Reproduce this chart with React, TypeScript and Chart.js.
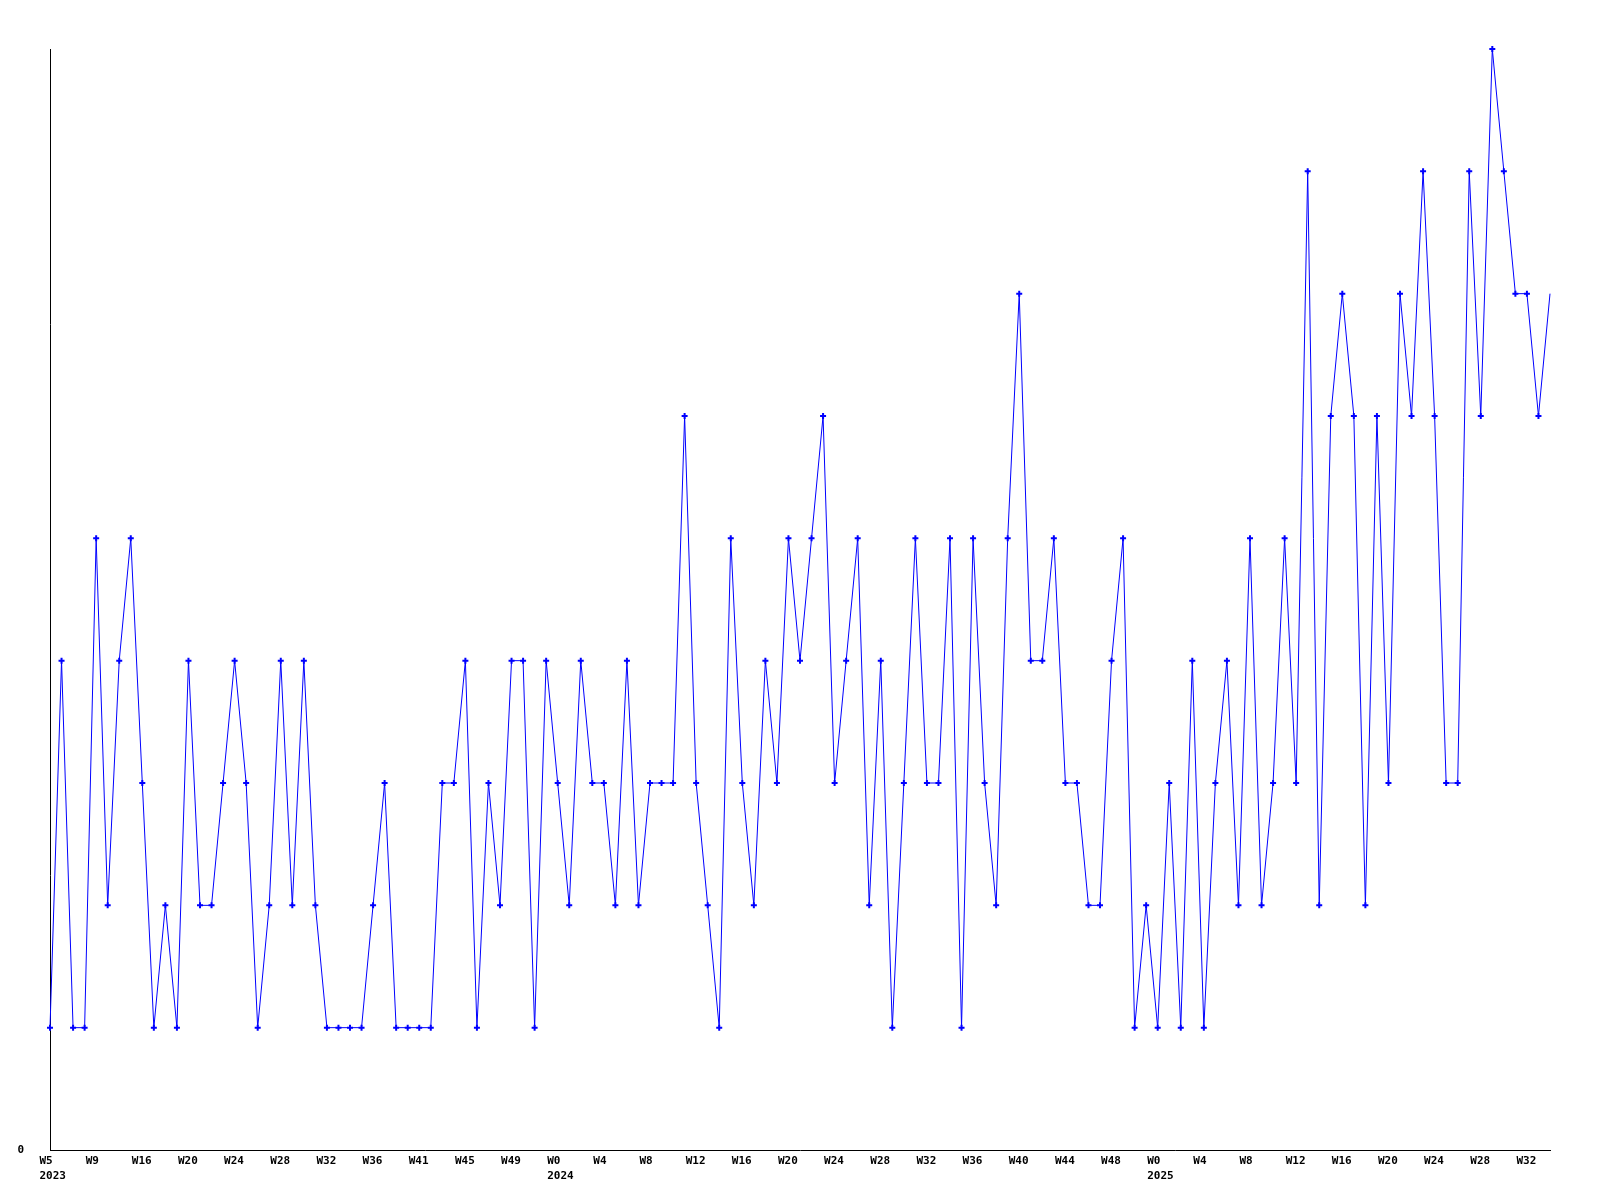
import React, { useEffect, useRef } from "react";
import { Chart, registerables } from "chart.js";

Chart.register(...registerables);

// Weekly values (one point per week)
const VALUES: number[] = [
  1, 4, 1, 1, 5, 2, 4, 5, 3, 1, 2, 1, 4, 2, 2, 3, 4, 3, 1, 2,
  4, 2, 4, 2, 1, 1, 1, 1, 2, 3, 1, 1, 1, 1, 3, 3, 4, 1, 3, 2,
  4, 4, 1, 4, 3, 2, 4, 3, 3, 2, 4, 2, 3, 3, 3, 6, 3, 2, 1, 5,
  3, 2, 4, 3, 5, 4, 5, 6, 3, 4, 5, 2, 4, 1, 3, 5, 3, 3, 5, 1,
  5, 3, 2, 5, 7, 4, 4, 5, 3, 3, 2, 2, 4, 5, 1, 2, 1, 3, 1, 4,
  1, 3, 4, 2, 5, 2, 3, 5, 3, 8, 2, 6, 7, 6, 2, 6, 3, 7, 6, 8,
  6, 3, 3, 8, 6, 9, 8, 7, 7, 6, 7,
];

// Tick labels, one every 4th point
const TICK_LABELS: string[] = [
  "W5", "W9", "W16", "W20", "W24", "W28", "W32", "W36", "W41", "W45", "W49",
  "W0", "W4", "W8", "W12", "W16", "W20", "W24", "W28", "W32", "W36", "W40", "W44", "W48",
  "W0", "W4", "W8", "W12", "W16", "W20", "W24", "W28", "W32",
];
const TICK_STEP = 4;
// Year shown under a tick label (keyed by label position)
const YEAR_LABELS: Record<number, string> = { 0: "2023", 11: "2024", 24: "2025" };

const Y_MAX = 9;
const FONT_FAMILY = "'DejaVu Sans Mono', 'Liberation Mono', monospace";

export default function App() {
  const canvasRef = useRef<HTMLCanvasElement | null>(null);

  useEffect(() => {
    if (!canvasRef.current) return;
    const data = VALUES.map((v, i) => ({ x: i, y: v }));
    const lastIndex = VALUES.length - 1;
    const tickValues = TICK_LABELS.map((_, k) => k * TICK_STEP);

    const chart = new Chart(canvasRef.current, {
      type: "line",
      data: {
        datasets: [
          {
            data,
            borderColor: "#0000ff",
            backgroundColor: "#0000ff",
            borderWidth: 1,
            tension: 0,
            fill: false,
            clip: false,
            pointStyle: "cross",
            pointRadius: (ctx: any) => (ctx.dataIndex === lastIndex ? 0 : 3),
            pointBorderWidth: 2,
            pointBorderColor: "#0000ff",
            pointBackgroundColor: "#0000ff",
          },
        ],
      },
      options: {
        animation: false,
        responsive: true,
        maintainAspectRatio: false,
        layout: { padding: { top: 49, right: 50, left: 0, bottom: 0 } },
        plugins: {
          legend: { display: false },
          tooltip: { enabled: false },
          title: { display: false },
        },
        scales: {
          x: {
            type: "linear",
            min: 0,
            max: lastIndex,
            grid: { display: false, drawTicks: false },
            border: { display: true, color: "#000000", width: 1 },
            afterBuildTicks: (scale: any) => {
              scale.ticks = tickValues.map((v) => ({ value: v }));
            },
            afterFit: (scale: any) => {
              scale.height = 50;
            },
            ticks: {
              autoSkip: false,
              maxRotation: 0,
              minRotation: 0,
              align: "start",
              labelOffset: -10.5,
              padding: 4,
              color: "#000000",
              font: { family: FONT_FAMILY, size: 11, weight: "bold", lineHeight: 1.35 },
              callback: (value: any) => {
                const k = Math.round(Number(value) / TICK_STEP);
                const lbl = TICK_LABELS[k] ?? "";
                return YEAR_LABELS[k] ? [lbl, YEAR_LABELS[k]] : lbl;
              },
            },
          },
          y: {
            type: "linear",
            min: 0,
            max: Y_MAX,
            grid: { display: false, drawTicks: false },
            border: { display: true, color: "#000000", width: 1 },
            afterBuildTicks: (scale: any) => {
              scale.ticks = [{ value: 0 }];
            },
            afterFit: (scale: any) => {
              scale.width = 50;
            },
            ticks: {
              padding: 26,
              color: "#000000",
              font: { family: FONT_FAMILY, size: 11, weight: "bold" },
              callback: (value: any) => String(value),
            },
          },
        },
      },
    });
    return () => chart.destroy();
  }, []);

  return (
    <div style={{ position: "absolute", left: 0, top: 0, width: 1600, height: 1200, background: "#ffffff" }}>
      <canvas ref={canvasRef} />
    </div>
  );
}
